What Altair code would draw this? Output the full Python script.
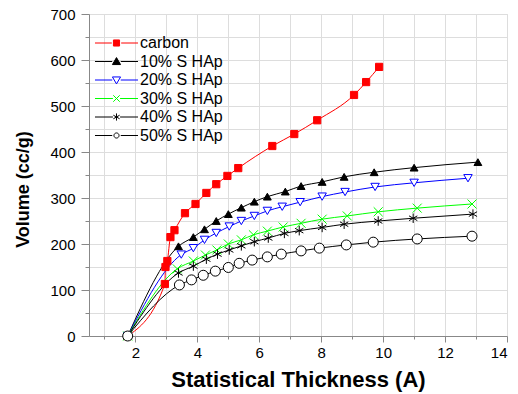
import altair as alt
import pandas as pd

series = ["carbon", "10% S HAp", "20% S HAp", "30% S HAp", "40% S HAp", "50% S HAp"]

carbon_x = [1.75, 2.95, 2.97, 3.03, 3.13, 3.26, 3.6, 3.94, 4.29, 4.61, 4.97, 5.32, 6.42, 7.13, 7.87, 9.06, 9.45, 9.87]
carbon_y = [0, 113, 150, 163, 215, 230, 267, 287, 311, 330, 348, 365, 413, 439, 469, 524, 552, 585]

s10_x = [1.75, 3.39, 3.87, 4.23, 4.61, 5.0, 5.42, 5.84, 6.26, 6.84, 7.35, 8.03, 8.74, 9.71, 11.0, 13.06]
s10_y = [0, 195, 215, 232, 250, 265, 279, 292, 303, 314, 326, 335, 346, 356, 366, 378]

s20_x = [1.75, 3.48, 3.87, 4.23, 4.61, 5.03, 5.42, 5.84, 6.26, 6.74, 7.32, 8.03, 8.77, 9.74, 11.0, 12.74]
s20_y = [0, 177, 191, 209, 224, 238, 250, 261, 272, 281, 291, 303, 313, 324, 333, 343]

s30_x = [1.75, 3.35, 3.87, 4.26, 4.63, 5.0, 5.42, 5.81, 6.26, 6.77, 7.35, 8.03, 8.84, 9.84, 11.1, 12.87]
s30_y = [0, 146, 163, 176, 187, 200, 209, 220, 228, 237, 245, 254, 261, 270, 278, 287]

s40_x = [1.75, 3.39, 3.87, 4.29, 4.65, 5.03, 5.42, 5.84, 6.29, 6.81, 7.29, 8.03, 8.74, 9.84, 10.97, 12.9]
s40_y = [0, 137, 152, 167, 178, 187, 196, 205, 213, 223, 229, 236, 243, 250, 256, 265]

s50_x = [1.75, 3.42, 3.81, 4.19, 4.58, 5.0, 5.35, 5.77, 6.26, 6.71, 7.35, 7.94, 8.81, 9.68, 11.1, 12.87]
s50_y = [0, 111, 122, 132, 141, 149, 158, 165, 172, 178, 185, 191, 198, 204, 211, 217]

x_ticks = list(range(1, 15))
y_ticks = list(range(0, 701, 50))

all_x = [carbon_x, s10_x, s20_x, s30_x, s40_x, s50_x]
all_y = [carbon_y, s10_y, s20_y, s30_y, s40_y, s50_y]

rows = []
for name, xs, ys in zip(series, all_x, all_y):
    for i, (xv, yv) in enumerate(zip(xs, ys)):
        rows.append({"series": name, "x": xv, "y": yv, "idx": i})
df = pd.DataFrame(rows)

# styles
colors = ["#ff0000", "#000000", "#0000ff", "#00ff00", "#000000", "#000000"]
fills = ["#ff0000", "#000000", "#ffffff", "#ffffff", "#ffffff", "#ffffff"]
X_PATH = "M-1,-1L1,1M-1,1L1,-1"
AST_PATH = "M0,-1L0,1M-0.87,-0.5L0.87,0.5M-0.87,0.5L0.87,-0.5"
plot_shapes = ["square", "triangle-up", "triangle-down", X_PATH, AST_PATH, "circle"]
plot_sizes = [52, 100, 85, 60, 72, 60]

# legend symbols: line + marker
m = 1.47
L0, L1 = -1.06, 4.0


def line(g):
    return f"M{L0},0H{m-g:.2f}M{m+g:.2f},0H{L1}"


def sq(h):
    return f"M{m-h:.2f},{-h}H{m+h:.2f}V{h}H{m-h:.2f}Z"


def tri_up(h):
    return f"M{m:.2f},{-h*0.95:.2f}L{m-h:.2f},{h*0.75:.2f}L{m+h:.2f},{h*0.75:.2f}Z"


def tri_dn(h):
    return f"M{m:.2f},{h*0.95:.2f}L{m-h:.2f},{-h*0.75:.2f}L{m+h:.2f},{-h*0.75:.2f}Z"


def xx(h):
    return f"M{m-h:.2f},{-h}L{m+h:.2f},{h}M{m-h:.2f},{h}L{m+h:.2f},{-h}"


def ast(h):
    return (f"M{m:.2f},{-h}L{m:.2f},{h}M{m-0.87*h:.2f},{-0.5*h:.2f}L{m+0.87*h:.2f},{0.5*h:.2f}"
            f"M{m-0.87*h:.2f},{0.5*h:.2f}L{m+0.87*h:.2f},{-0.5*h:.2f}")


def circ(h):
    return f"M{m+h:.2f},0A{h},{h} 0 1,1 {m-h:.2f},0A{h},{h} 0 1,1 {m+h:.2f},0Z"


legend_shapes = [
    line(0.55) + sq(0.36),
    line(0.5) + tri_up(0.48),
    line(0.5) + tri_dn(0.48),
    line(0.42) + xx(0.38),
    line(0.42) + ast(0.42),
    line(0.5) + circ(0.3),
]

FONT = "Liberation Sans"

xenc = alt.X(
    "x:Q",
    scale=alt.Scale(domain=[0.5, 14], nice=False, zero=False),
    axis=alt.Axis(
        values=x_ticks,
        labelExpr="datum.value % 2 == 0 ? datum.label : ''",
        tickSize={"condition": {"test": "datum.value % 2 != 0", "value": 3}, "value": 6},
        labelFontSize=15,
        labelPadding=3,
        title="Statistical Thickness (A)",
        titleFontSize=22,
        titleBaseline="alphabetic",
        titleY=50,
    ),
)
yenc = alt.Y(
    "y:Q",
    scale=alt.Scale(domain=[0, 700], nice=False),
    axis=alt.Axis(
        values=y_ticks,
        labelExpr="datum.value % 100 == 0 ? datum.label : ''",
        tickSize={"condition": {"test": "datum.value % 100 != 0", "value": 4}, "value": 8},
        labelFontSize=15,
        labelPadding=6,
        title="Volume (cc/g)",
        titleFontSize=18,
        titleX=-57,
        titleY=175,
    ),
)

leg = alt.Legend(
    title=None,
    orient="none",
    legendX=6,
    legendY=20,
    direction="vertical",
    symbolSize=289,
    symbolStrokeWidth=1,
    labelFontSize=16,
    labelFont=FONT,
    labelColor="#000000",
    labelOffset=27,
    rowPadding=1.5,
    padding=0,
)

legend_layer = alt.Chart(df).transform_filter("false").mark_point(opacity=1, strokeWidth=1).encode(
    x=xenc,
    y=yenc,
    shape=alt.Shape("series:N", scale=alt.Scale(domain=series, range=legend_shapes), legend=leg),
    fill=alt.Fill("series:N", scale=alt.Scale(domain=series, range=fills), legend=leg),
    stroke=alt.Stroke("series:N", scale=alt.Scale(domain=series, range=colors), legend=leg),
)

lines = alt.Chart(df).mark_line(strokeWidth=1, interpolate="monotone").encode(
    x=xenc,
    y=yenc,
    stroke=alt.Stroke("series:N", scale=alt.Scale(domain=series, range=colors), legend=None),
    order="idx:Q",
)

points = alt.Chart(df).mark_point(opacity=1, strokeWidth=1).encode(
    x=xenc,
    y=yenc,
    shape=alt.Shape("series:N", scale=alt.Scale(domain=series, range=plot_shapes), legend=None),
    fill=alt.Fill("series:N", scale=alt.Scale(domain=series, range=fills), legend=None),
    stroke=alt.Stroke("series:N", scale=alt.Scale(domain=series, range=colors), legend=None),
    size=alt.Size("series:N", scale=alt.Scale(domain=series, range=plot_sizes), legend=None),
)

chart = (
    alt.layer(legend_layer, lines, points)
    .resolve_scale(shape="independent", fill="independent", stroke="independent", size="independent")
    .properties(
        width=418,
        height=322,
        autosize=alt.AutoSizeParams(type="none"),
        padding={"left": 89, "top": 14, "right": 11, "bottom": 58},
    )
    .configure_view(stroke="#000000", strokeWidth=1)
    .configure_axis(
        grid=False,
        domainColor="#000000",
        domainWidth=1.6,
        tickColor="#000000",
        tickWidth=1,
        labelColor="#000000",
        labelFont=FONT,
        titleFont=FONT,
        titleColor="#000000",
        titleFontWeight="bold",
    )
    .configure(background="#ffffff")
)

chart.save("out.html", embed_options={"renderer": "svg", "actions": False})
